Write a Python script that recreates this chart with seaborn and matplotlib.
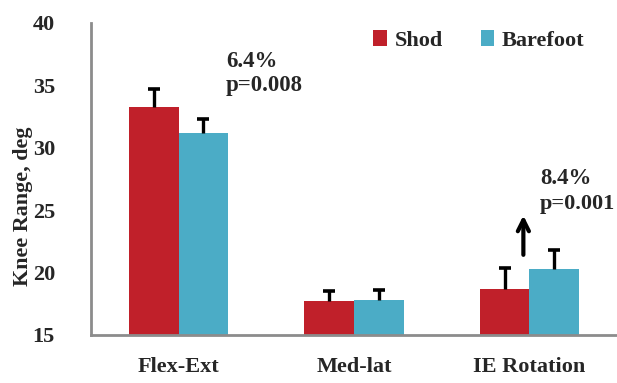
import numpy as np
import pandas as pd
import matplotlib
matplotlib.use("Agg")
import matplotlib.pyplot as plt
import seaborn as sns

# knee range of motion, deg
categories = ["Flex-Ext", "Med-lat", "IE Rotation"]
shod = [33.3, 17.7, 18.7]
barefoot = [31.2, 17.8, 20.3]
shod_err = [1.4, 0.8, 1.7]
barefoot_err = [1.1, 0.8, 1.5]

df = pd.DataFrame({
    "motion": categories * 2,
    "range": shod + barefoot,
    "cond": ["Shod"] * 3 + ["Barefoot"] * 3,
})
errs = shod_err + barefoot_err

sns.set_theme(style="white")
plt.rcParams['font.family'] = ['Liberation Serif', 'DejaVu Serif']
plt.rcParams['font.weight'] = 'bold'

fig = plt.figure(figsize=(6.17, 3.83), dpi=100)
ax = fig.add_axes([91 / 617, 48 / 383, 526 / 617, 312 / 383])

colors = ["#C0202A", "#4BACC6"]
sns.barplot(data=df, x="motion", y="range", hue="cond", palette=colors,
            width=0.565, errorbar=None, saturation=1, linewidth=0, ax=ax)

# one-sided error bars (upper only) on each bar
for i, p in enumerate(ax.patches[:6]):
    xc = p.get_x() + p.get_width() / 2
    y0 = df["range"].iloc[i]
    ax.vlines(xc, y0, y0 + errs[i], color="black", lw=2.4, zorder=5)
    ax.plot([xc], [y0 + errs[i]], marker="_", ms=9, mew=2.6, color="black", zorder=5)

ax.set_ylim(15, 40)
ax.set_yticks([15, 20, 25, 30, 35, 40])
ax.set_xlim(-0.5, 2.47)
ax.set_xticks([-0.5, 0.5, 1.5, 2.5], minor=False)
ax.set_xticks([0, 1, 2], minor=True)
ax.set_xticklabels([])
ax.set_xticklabels(categories, minor=True, fontsize=16, fontweight="bold")
ax.tick_params(axis="x", which="minor", length=0, pad=16)
ax.tick_params(axis="x", which="major", length=6, width=2, color="#8c8c8c", direction="out")
ax.tick_params(axis="y", length=5, width=2, color="#8c8c8c", direction="out", labelsize=16, pad=21)
for lab in ax.get_yticklabels():
    lab.set_fontweight("bold")

ax.set_xlabel("")
ax.set_ylabel("Knee Range, deg", fontsize=15.8, fontweight="bold")
ax.yaxis.set_label_coords(-58 / 526, 0.413)

for side in ["top", "right"]:
    ax.spines[side].set_visible(False)
for side in ["left", "bottom"]:
    ax.spines[side].set_color("#8c8c8c")
    ax.spines[side].set_linewidth(2)

ax.legend(ncol=2, frameon=False, loc="center left", bbox_to_anchor=(0.52, 0.945),
          prop={"weight": "bold", "size": 16}, handlelength=0.6, handleheight=0.75,
          handletextpad=0.35, columnspacing=1.7, borderaxespad=0)

ax.text(0.27, 36.9, "6.4%", fontsize=16.5, fontweight="bold", va="center", ha="left")
ax.text(0.27, 35.0, "p=0.008", fontsize=16.5, fontweight="bold", va="center", ha="left")
ax.text(2.06, 27.5, "8.4%", fontsize=16.5, fontweight="bold", va="center", ha="left")
ax.text(2.06, 25.5, "p=0.001", fontsize=16, fontweight="bold", va="center", ha="left")
ax.annotate("", xy=(1.966, 24.8), xytext=(1.966, 21.2),
            arrowprops=dict(arrowstyle="->", lw=3, color="black", mutation_scale=20))

fig.savefig("out.png", dpi=100)
